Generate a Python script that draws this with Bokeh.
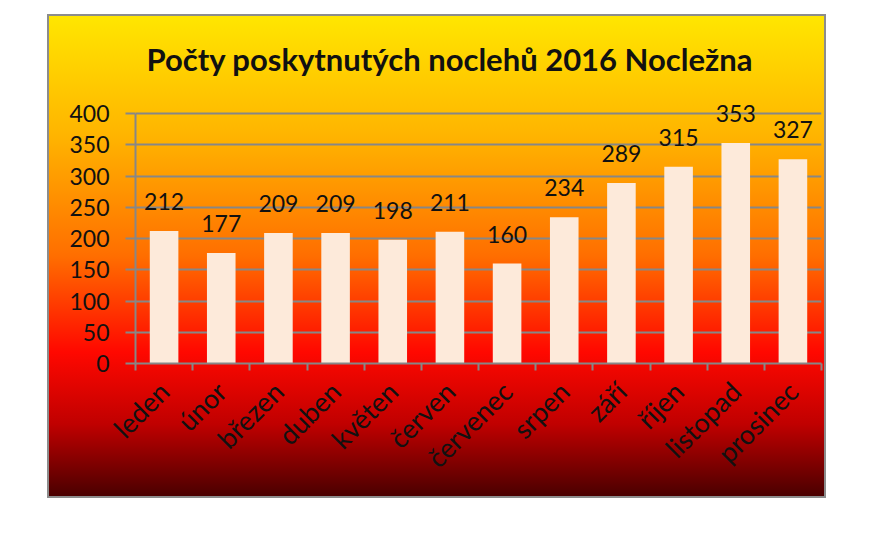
import numpy as np
from bokeh.plotting import figure
from bokeh.models import ColumnDataSource, FixedTicker, LabelSet, Range1d
from bokeh.core.properties import value
from bokeh.embed import file_html
from bokeh.resources import INLINE

months = ["leden", "únor", "březen", "duben", "květen", "červen",
          "červenec", "srpen", "září", "říjen", "listopad", "prosinec"]
nights = [212, 177, 209, 209, 198, 211, 160, 234, 289, 315, 353, 327]
y_ticks = [0, 50, 100, 150, 200, 250, 300, 350, 400]
title_text = "Počty poskytnutých noclehů 2016 Nocležna"

centers = [i + 0.5 for i in range(len(months))]
bounds = list(range(len(months) + 1))

src = ColumnDataSource(dict(x=centers, top=nights, label=[str(v) for v in nights]))

FONT = "Lato"
GREY = "#878787"
INK = "#111111"

p = figure(width=779, height=484, output_backend="svg", toolbar_location=None,
           x_range=Range1d(0, len(months)), y_range=Range1d(0, 440),
           min_border_left=86, min_border_right=7, min_border_top=72,
           min_border_bottom=137, title=title_text,
           margin=(14, 0, 0, 47),
           styles={"background": "linear-gradient(to bottom, #FFE600 0%, #FFB400 25%, #FF6E00 50%, #FF0800 70%, #C00000 85%, #4A0000 100%)",
                   "border": "2px solid #8c8c8c"})
p.background_fill_alpha = 0
p.border_fill_color = None
p.outline_line_color = None

p.title.text_font = FONT
p.title.text_font_size = "31px"
p.title.text_font_style = "bold"
p.title.text_color = INK
p.title.align = "left"
p.title.offset = 11
p.title.standoff = 21

p.vbar(x="x", top="top", width=0.5, source=src, fill_color="#FDEADA", line_color=None)

labels = LabelSet(x="x", y="top", text="label", source=src, text_align="center",
                  text_baseline="alphabetic", y_offset=21, text_font=value(FONT),
                  text_font_size="23px", text_color=INK)
p.add_layout(labels)

# x axis
p.xaxis.ticker = FixedTicker(ticks=centers, minor_ticks=bounds)
p.xaxis.major_label_overrides = {c: m for c, m in zip(centers, months)}
p.xaxis.major_tick_out = 0
p.xaxis.major_tick_in = 0
p.xaxis.minor_tick_out = 7
p.xaxis.minor_tick_in = 0
p.xaxis.minor_tick_line_color = GREY
p.xaxis.minor_tick_line_width = 2
p.xaxis.axis_line_color = GREY
p.xaxis.axis_line_width = 2
p.xaxis.major_label_orientation = np.pi / 4
p.xaxis.major_label_text_font = FONT
p.xaxis.major_label_text_font_size = "27px"
p.xaxis.major_label_text_color = INK
p.xaxis.major_label_standoff = 16
p.xgrid.grid_line_color = None

# y axis
p.yaxis.ticker = FixedTicker(ticks=y_ticks)
p.yaxis.bounds = (0, 400)
p.yaxis.major_tick_out = 10
p.yaxis.major_tick_in = 0
p.yaxis.minor_tick_line_color = None
p.yaxis.major_tick_line_color = GREY
p.yaxis.major_tick_line_width = 2
p.yaxis.axis_line_color = GREY
p.yaxis.axis_line_width = 2
p.yaxis.major_label_text_font = FONT
p.yaxis.major_label_text_font_size = "23px"
p.yaxis.major_label_text_color = INK
p.yaxis.major_label_standoff = 16
p.ygrid.ticker = FixedTicker(ticks=y_ticks)
p.ygrid.grid_line_color = GREY
p.ygrid.grid_line_width = 2

open("out.html", "w").write(file_html(p, INLINE))
